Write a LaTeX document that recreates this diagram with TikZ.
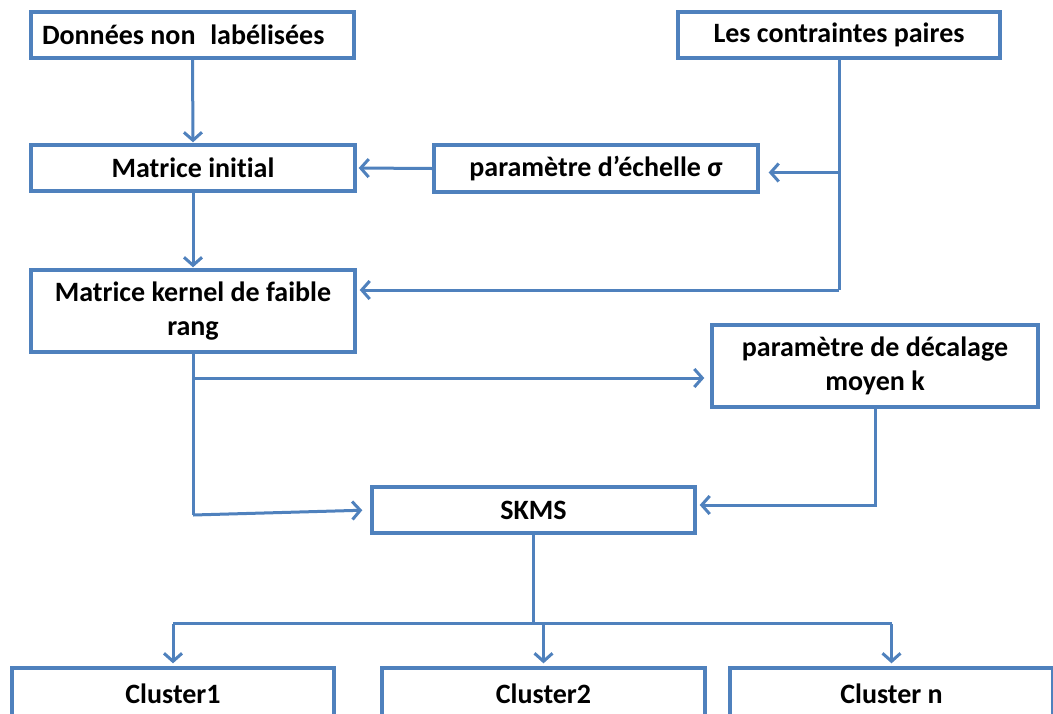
\documentclass[tikz,border=0pt]{standalone}
\usepackage{fontspec}
\setmainfont{Carlito}[Ligatures=NoCommon]
\usetikzlibrary{arrows.meta}
\definecolor{boxblue}{RGB}{79,129,189}
\begin{document}
\begin{tikzpicture}[x=1pt,y=-1pt,
  box/.style={draw=boxblue,line width=3.4pt,fill=white,inner sep=0pt,
    minimum width=#1,font=\fontsize{28}{34}\selectfont\bfseries,align=center},
  box/.default=323pt,
  conn/.style={draw=boxblue,line width=3pt},
  arr/.style={conn,-{Straight Barb[length=8pt,width=18pt,line width=3pt]}}]
\useasboundingbox (0,0) rectangle (1053,713);
\clip (0,0) rectangle (1053,713);
\fill[white] (0,0) rectangle (1053,713);
% boxes
\node[box=323pt,minimum height=46pt,text width=301pt,align=flush left,inner xsep=11pt] (d) at (192.5,35) {Donn\'ees non\hspace{0.3em} lab\'elis\'ees};
\node[box=322pt,minimum height=46pt] (lc) at (839,35) {Les contraintes paires};
\node[box=324pt,minimum height=46pt] (mi) at (193,168) {Matrice initial};
\node[box=324pt,minimum height=47pt] (sig) at (596,168.5) {param\`etre d’\'echelle σ};
\node[box=324pt,minimum height=82pt] (mk) at (193,311) {Matrice kernel de faible\\rang};
\node[box=326pt,minimum height=82pt] (dk) at (875,366) {param\`etre de d\'ecalage\\moyen k};
\node[box=323pt,minimum height=46pt] (sk) at (533.5,510) {SKMS};
\node[box=322pt,minimum height=52pt] (c1) at (173,694) {Cluster1};
\node[box=323pt,minimum height=52pt] (c2) at (543.5,694) {Cluster2};
\node[box=323pt,minimum height=52pt] (c3) at (891.5,694) {Cluster n};
% connectors
\draw[arr,shorten >=1pt] (d.south) -- (mi.north);
\draw[arr,shorten >=2pt] (sig.west) -- (mi.east);
\draw[arr,shorten >=1pt] (mi.south) -- (mk.north);
\coordinate (s1) at ([yshift=-4pt]sig.east);
\coordinate (m1) at ([yshift=21pt]mk.east);
\draw[conn] (lc.south) -- (lc.south |- m1);
\draw[arr,shorten >=9pt] (lc.south |- s1) -- (s1);
\draw[arr,shorten >=3pt] (lc.south |- m1) -- (m1);
\coordinate (b1) at ([yshift=-12pt]dk.west);
\draw[conn] (mk.south) -- ([yshift=-5pt]mk.south |- sk.west);
\draw[arr,shorten >=6pt] (b1 -| mk.south) -- (b1);
\draw[arr,shorten >=8pt] ([yshift=-5pt]mk.south |- sk.west) -- (sk.west);
\draw[arr,shorten >=3pt] (dk.south) -- ([yshift=5pt]dk.south |- sk.east) -- ([yshift=5pt]sk.east);
\coordinate (bus) at ([yshift=-89pt]sk.south);
\draw[conn] (sk.south) -- (bus);
\draw[conn] (c1.north |- bus) -- (c3.north |- bus);
\draw[arr,shorten >=3pt] (c1.north |- bus) -- (c1.north);
\draw[arr,shorten >=3pt] (c2.north |- bus) -- (c2.north);
\draw[arr,shorten >=3pt] (c3.north |- bus) -- (c3.north);
\end{tikzpicture}
\end{document}
